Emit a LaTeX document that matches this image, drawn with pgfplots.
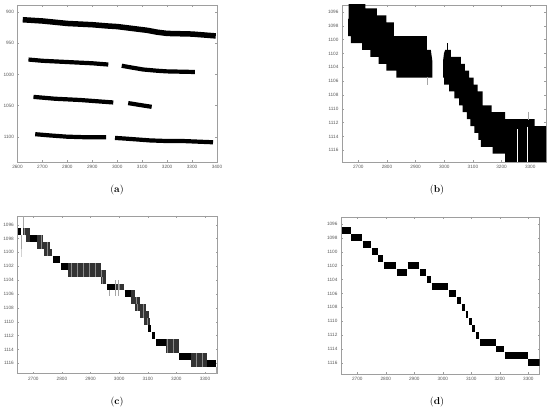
\documentclass[border=0pt]{standalone}
\usepackage{fontspec}
\usepackage{pgfplots}
\pgfplotsset{compat=1.18}
\newfontfamily\tickfont{Liberation Sans}
\definecolor{frame}{gray}{0.62}
\definecolor{stripe}{gray}{0.55}
\pgfplotsset{
  panel/.style={
    scale only axis, anchor=south west, y dir=reverse,
    axis line style={frame, line width=0.35pt},
    tick style={frame, line width=0.3pt},
    major tick length=1.6pt, tick align=inside,
    ticklabel style={font=\tickfont\fontsize{4.7}{5.5}\selectfont, text=black!65},
    xticklabel={\pgfmathprintnumber[assume math mode=true,set thousands separator={}]{\tick}},
    yticklabel={\pgfmathprintnumber[assume math mode=true,set thousands separator={}]{\tick}},
    scaled ticks=false,
    unbounded coords=jump,
    clip=true,
    xtick={2700,2800,2900,3000,3100,3200,3300},
    ytick={1096,1098,1100,1102,1104,1106,1108,1110,1112,1114,1116},
  },
  blk/.style={black, line width=6.93pt, line cap=butt},
  gry/.style={stripe, line width=6.93pt, line cap=butt},
  str/.style={black!80, line width=6.93pt, line cap=butt, dash pattern=on 0.6pt off 0.6pt},
  spk/.style={gray!70, line width=0.6pt},
}
\begin{document}
\begin{tikzpicture}
\path[use as bounding box] (0,0) rectangle (550pt,417pt);

% (a) four tracks
\begin{axis}[panel, at={(17.5pt,255pt)}, width=199.5pt, height=157pt,
  xmin=2600, xmax=3400, ymin=888.3, ymax=1140.7,
  xtick={2600,2700,2800,2900,3000,3100,3200,3300,3400},
  ytick={900,950,1000,1050,1100}]
\addplot[black, line width=5.5pt] coordinates {
  (2621,912) (2700,914) (2800,918) (2900,920) (2960,922) (3000,923)
  (3060,926) (3120,929) (3160,932) (3200,934) (3300,935) (3395,938)};
\addplot[black, line width=4.2pt] coordinates {
  (2644,976) (2700,978) (2800,980) (2900,982) (2964,984)};
\addplot[black, line width=4.2pt] coordinates {
  (3018,986) (3060,989) (3104,992) (3160,994) (3198,995) (3311,996)};
\addplot[black, line width=4.2pt] coordinates {
  (2664,1036) (2750,1039) (2850,1041) (2984,1045)};
\addplot[black, line width=4.2pt] coordinates {
  (3044,1046) (3090,1049) (3138,1052)};
\addplot[black, line width=4.2pt] coordinates {
  (2671,1096) (2730,1098) (2798,1100) (2880,1101) (2955,1101)};
\addplot[black, line width=4.2pt] coordinates {
  (2991,1102) (3030,1103) (3064,1104) (3131,1106) (3200,1107) (3264,1107) (3384,1109)};
\end{axis}

% (b) coarse blocks
\begin{axis}[panel, at={(342pt,255pt)}, width=204pt, height=157pt,
  xmin=2643, xmax=3355, ymin=1095, ymax=1117.7]
\addplot[fill=black, draw=none] coordinates {
  (2666,1094.5) (2725,1094.5) (2725,1095.5) (2765,1095.5) (2765,1096.5)
  (2798,1096.5) (2798,1097.5) (2824,1097.5) (2824,1099.5) (2939,1099.5)
  (2939,1101.5) (2953,1101.5) (2958,1103) (2958,1105.5) (2833,1105.5)
  (2833,1104.5) (2798,1104.5) (2798,1103.5) (2771,1103.5) (2771,1102.5)
  (2742,1102.5) (2742,1101.5) (2713,1101.5) (2713,1100.5) (2674,1100.5)
  (2674,1099.5) (2664,1099.5) (2664,1097) (2666,1097)} -- cycle;
\addplot[fill=black, draw=none] coordinates {
  (3003,1101.5) (3023,1101.5) (3023,1102.5) (3058,1102.5) (3058,1103.5)
  (3072,1103.5) (3072,1104.5) (3087,1104.5) (3087,1105.5) (3102,1105.5)
  (3102,1106.5) (3116,1106.5) (3116,1107.5) (3134,1107.5) (3134,1109.5)
  (3165,1109.5) (3165,1110.5) (3212,1110.5) (3212,1111.5) (3315,1111.5)
  (3315,1112.5) (3360,1112.5) (3360,1118) (3212,1118) (3212,1116.5)
  (3169,1116.5) (3169,1115.5) (3128,1115.5) (3128,1114.5) (3119,1114.5)
  (3119,1113.5) (3105,1113.5) (3105,1112.5) (3091,1112.5) (3091,1111.5)
  (3079,1111.5) (3079,1110.5) (3064,1110.5) (3064,1109.5) (3052,1109.5)
  (3052,1108.5) (3035,1108.5) (3035,1107.5) (3017,1107.5) (3017,1106.5)
  (2999,1106.5) (2999,1105.5) (2996,1105.5) (2996,1103) (2999,1102)} -- cycle;
\addplot[spk, black] coordinates {(3011,1100.5) (3011,1101.6)};
\addplot[spk] coordinates {(2941,1105.4) (2941,1106.6)};
\addplot[spk] coordinates {(3292,1110.4) (3292,1111.6)};
\addplot[white, line width=0.8pt] coordinates {(3254,1113) (3254,1118)};
\addplot[white, line width=0.8pt] coordinates {(3291,1112.6) (3291,1118)};
\end{axis}

% (c) noisy blocks (striped = mixed detections)
\begin{axis}[panel, at={(17.3pt,43.7pt)}, width=200pt, height=157.3pt,
  xmin=2644, xmax=3343, ymin=1094.75, ymax=1117.45]
\addplot[gry] coordinates {
  (2665,1097) (2688,1097) (nan,nan) (2673,1098) (2688,1098) (nan,nan)
  (2712,1098) (2731,1098) (nan,nan) (2712,1099) (2758,1099) (nan,nan)
  (2737,1100) (2763,1100) (nan,nan) (2821,1102) (2938,1102) (nan,nan)
  (2821,1103) (2953,1103) (nan,nan) (2938,1104) (2953,1104) (nan,nan)
  (2989,1105) (3017,1105) (nan,nan) (3040,1106) (3056,1106) (nan,nan)
  (3040,1107) (3073,1107) (nan,nan) (3056,1108) (3090,1108) (nan,nan)
  (3073,1109) (3106,1109) (nan,nan) (3087,1110) (3106,1110) (nan,nan)
  (3165,1113) (3210,1113) (nan,nan) (3165,1114) (3210,1114) (nan,nan)
  (3250,1115) (3307,1115) (nan,nan) (3250,1116) (3307,1116)};
\addplot[str] coordinates {
  (2665,1097) (2688,1097) (nan,nan) (2673,1098) (2688,1098) (nan,nan)
  (2712,1098) (2731,1098) (nan,nan) (2712,1099) (2758,1099) (nan,nan)
  (2737,1100) (2763,1100) (nan,nan) (2821,1102) (2938,1102) (nan,nan)
  (2821,1103) (2953,1103) (nan,nan) (2938,1104) (2953,1104) (nan,nan)
  (2989,1105) (3017,1105) (nan,nan) (3040,1106) (3056,1106) (nan,nan)
  (3040,1107) (3073,1107) (nan,nan) (3056,1108) (3090,1108) (nan,nan)
  (3073,1109) (3106,1109) (nan,nan) (3087,1110) (3106,1110) (nan,nan)
  (3165,1113) (3210,1113) (nan,nan) (3165,1114) (3210,1114) (nan,nan)
  (3250,1115) (3307,1115) (nan,nan) (3250,1116) (3307,1116)};
\addplot[blk] coordinates {
  (2646,1097) (2658,1097) (nan,nan) (2688,1098) (2712,1098) (nan,nan)
  (2770,1101) (2793,1101) (nan,nan) (2796,1102) (2821,1102) (nan,nan)
  (2957,1105) (2989,1105) (nan,nan) (3019,1106) (3040,1106) (nan,nan)
  (3102,1111) (3113,1111) (nan,nan) (3114,1112) (3125,1112) (nan,nan)
  (3130,1113) (3165,1113) (nan,nan) (3210,1115) (3250,1115) (nan,nan)
  (3307,1116) (3339,1116)};
\addplot[spk] coordinates {(2666,1094.8) (2666,1096.5)};
\addplot[spk] coordinates {(2657,1097.5) (2657,1099.5)};
\addplot[spk, gray!35] coordinates {(2657,1099.5) (2657,1100.7)};
\addplot[spk] coordinates {(2965,1105.5) (2965,1106.3)};
\addplot[spk] coordinates {(2985,1104) (2985,1106.3)};
\addplot[spk] coordinates {(2997,1104) (2997,1106.3)};
\addplot[spk] coordinates {(3340,1116.5) (3340,1117.5)};
\end{axis}

% (d) clean blocks
\begin{axis}[panel, at={(341pt,43pt)}, width=198.5pt, height=157pt,
  xmin=2643, xmax=3339, ymin=1095.0, ymax=1117.6]
\addplot[blk] coordinates {
  (2645,1097) (2677,1097) (nan,nan) (2679,1098) (2718,1098) (nan,nan)
  (2719,1099) (2748,1099) (nan,nan) (2751,1100) (2773,1100) (nan,nan)
  (2774,1101) (2792,1101) (nan,nan) (2795,1102) (2837,1102) (nan,nan)
  (2838,1103) (2874,1103) (nan,nan) (2877,1102) (2918,1102) (nan,nan)
  (2920,1103) (2940,1103) (nan,nan) (2943,1104) (2958,1104) (nan,nan)
  (2961,1105) (3019,1105) (nan,nan) (3022,1106) (3045,1106) (nan,nan)
  (3049,1107) (3064,1107) (nan,nan) (3066,1108) (3078,1108) (nan,nan)
  (3080,1109) (3089,1109) (nan,nan) (3092,1110) (3101,1110) (nan,nan)
  (3102,1111) (3113,1111) (nan,nan) (3115,1112) (3128,1112) (nan,nan)
  (3130,1113) (3185,1113) (nan,nan) (3188,1114) (3215,1114) (nan,nan)
  (3217,1115) (3298,1115) (nan,nan) (3300,1116) (3339,1116)};
\end{axis}

\node[font=\fontsize{10}{11}\selectfont] at (117pt,227pt) {(\textbf{a})};
\node[font=\fontsize{10}{11}\selectfont] at (437pt,227pt) {(\textbf{b})};
\node[font=\fontsize{10}{11}\selectfont] at (117pt,15pt) {(\textbf{c})};
\node[font=\fontsize{10}{11}\selectfont] at (437pt,15pt) {(\textbf{d})};
\end{tikzpicture}
\end{document}
